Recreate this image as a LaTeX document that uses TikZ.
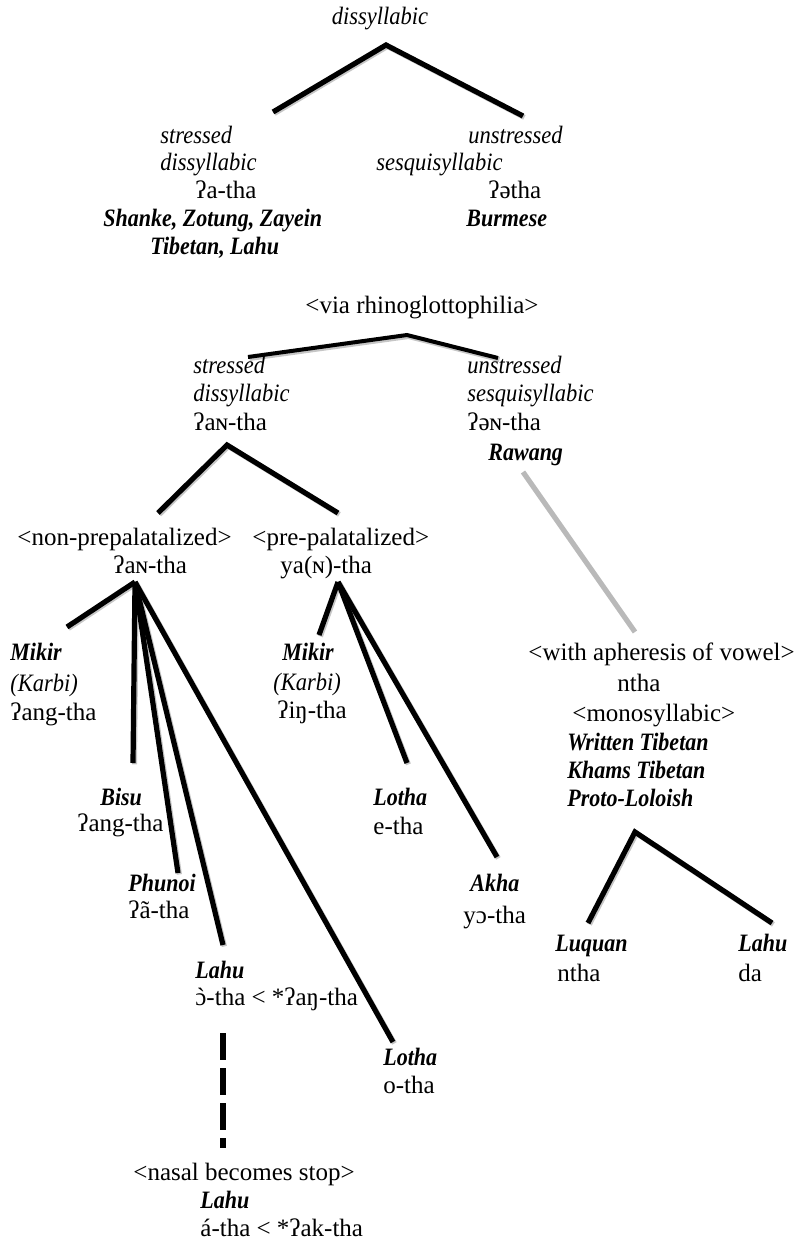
\documentclass[tikz,border=0pt]{standalone}
\usepackage{fontspec}
\setmainfont{Liberation Serif}[
    ItalicFeatures={FakeStretch=0.9},
    BoldItalicFeatures={FakeStretch=0.88}
]
\usetikzlibrary{positioning}
\newcommand{\treesize}{\fontsize{12.5}{15}\selectfont}
\newcommand{\opengrave}{\ooalign{ɔ\cr\hidewidth\char"02CB\hidewidth\cr}}
\tikzset{
    form/.style={inner sep=0pt, anchor=base west, yshift=-1.7pt, font=\treesize},
    gloss/.style={form, font=\treesize\itshape},
    lang/.style={form, font=\treesize\bfseries\itshape},
    branch/.style={
        line width=2.6pt,
        preaction={draw=gray!45, line width=2.6pt, transform canvas={shift={(0.7pt,-0.7pt)}}}
    },
    thinbranch/.style={branch, line width=2pt},
    drift/.style={draw=gray!55, line width=2.6pt},
    stopline/.style={line width=2.6pt, dash pattern=on 13.5pt off 4pt}
}

\begin{document}
\begin{tikzpicture}[x=0.5pt, y=-0.5pt]
    \useasboundingbox (0,0) rectangle (793,1243);

    \node[gloss, anchor=base] (root) at (380,21) {dissyllabic};
    \coordinate (root-fork) at (386,45);
    \coordinate (root-l) at (273,112);
    \coordinate (root-r) at (523,116);
    \draw[branch] (root-l) -- (root-fork) -- (root-r);

    \node[gloss] (s1) at (160,140) {stressed};
    \node[gloss] (s2) at (160,167) {dissyllabic};
    \node[form] (s3) at (195,195) {ʔa-tha};
    \node[lang] (s4) at (103,223) {Shanke, Zotung, Zayein};
    \node[lang] (s5) at (150,251) {Tibetan, Lahu};

    \node[gloss] (u1) at (468,140) {unstressed};
    \node[gloss] (u2) at (376,167) {sesquisyllabic};
    \node[form] (u3) at (488,195) {ʔətha};
    \node[lang] (u4) at (466,223) {Burmese};

    \node[form] (via) at (305,310) {<via rhinoglottophilia>};
    \coordinate (via-fork) at (407,335);
    \coordinate (via-l) at (248,357);
    \coordinate (via-r) at (498,358);
    \draw[thinbranch] (via-l) -- (via-fork) -- (via-r);

    \node[gloss] (vs1) at (193,370) {stressed};
    \node[gloss] (vs2) at (193,398) {dissyllabic};
    \node[form] (vs3) at (193,427) {ʔaɴ-tha};

    \node[gloss] (vu1) at (467,370) {unstressed};
    \node[gloss] (vu2) at (467,398) {sesquisyllabic};
    \node[form] (vu3) at (467,427) {ʔəɴ-tha};
    \node[lang] (rawang) at (488,457) {Rawang};
    \coordinate (rawang-end) at (523,472);
    \coordinate (aph-end) at (635,632);
    \draw[drift] (rawang-end) -- (aph-end);

    \coordinate (pal-fork) at (227,445);
    \coordinate (pal-l) at (158,513);
    \coordinate (pal-r) at (338,513);
    \draw[branch] (pal-l) -- (pal-fork) -- (pal-r);

    \node[form] (np1) at (17,542) {<non-prepalatalized>};
    \node[form] (np2) at (113,570) {ʔaɴ-tha};
    \node[form] (pp1) at (252,542) {<pre-palatalized>};
    \node[form] (pp2) at (280,570) {ya(ɴ)-tha};

    \coordinate (np-fork) at (135,582);
    \coordinate (np-mikir) at (67,627);
    \coordinate (np-bisu) at (133,763);
    \coordinate (np-phunoi) at (178,873);
    \coordinate (np-lahu) at (223,945);
    \coordinate (np-lotha) at (393,1042);
    \foreach \leaf in {mikir,bisu,phunoi,lahu,lotha}
        \draw[branch] (np-fork) -- (np-\leaf);

    \coordinate (pp-fork) at (338,582);
    \coordinate (pp-mikir) at (319,635);
    \coordinate (pp-lotha) at (407,763);
    \coordinate (pp-akha) at (497,857);
    \foreach \leaf in {mikir,lotha,akha}
        \draw[branch] (pp-fork) -- (pp-\leaf);

    \node[lang] (mikir1) at (10,657) {Mikir};
    \node[gloss] (karbi1) at (10,688) {(Karbi)};
    \node[form] (mikir1-f) at (10,717) {ʔang-tha};

    \node[lang] (mikir2) at (282,657) {Mikir};
    \node[gloss] (karbi2) at (273,687) {(Karbi)};
    \node[form] (mikir2-f) at (277,715) {ʔiŋ-tha};

    \node[lang] (bisu) at (100,802) {Bisu};
    \node[form] (bisu-f) at (77,828) {ʔang-tha};

    \node[lang] (lotha1) at (373,802) {Lotha};
    \node[form] (lotha1-f) at (373,831) {e-tha};

    \node[lang] (phunoi) at (128,888) {Phunoi};
    \node[form] (phunoi-f) at (128,915) {ʔã-tha};

    \node[lang] (akha) at (470,888) {Akha};
    \node[form] (akha-f) at (463,920) {yɔ-tha};

    \node[lang] (lahu1) at (195,975) {Lahu};
    \node[form] (lahu1-f) at (195,1002) {\opengrave-tha < *ʔaŋ-tha};

    \node[lang] (lotha2) at (383,1062) {Lotha};
    \node[form] (lotha2-f) at (383,1090) {o-tha};

    \coordinate (stop-top) at (223,1033);
    \coordinate (stop-bot) at (223,1148);
    \draw[stopline] (stop-top) -- (stop-bot);

    \node[form] (stop) at (133,1177) {<nasal becomes stop>};
    \node[lang] (lahu2) at (200,1205) {Lahu};
    \node[form] (lahu2-f) at (200,1233) {á-tha < *ʔak-tha};

    \node[form] (aph) at (528,657) {<with apheresis of vowel>};
    \node[form] (aph-f) at (617,688) {ntha};
    \node[form] (mono) at (572,718) {<monosyllabic>};
    \node[lang] (wt) at (567,747) {Written Tibetan};
    \node[lang] (kt) at (567,775) {Khams Tibetan};
    \node[lang] (pl) at (567,803) {Proto-Loloish};

    \coordinate (pl-fork) at (635,832);
    \coordinate (pl-l) at (588,923);
    \coordinate (pl-r) at (772,923);
    \draw[branch] (pl-l) -- (pl-fork) -- (pl-r);

    \node[lang] (luquan) at (555,948) {Luquan};
    \node[form] (luquan-f) at (557,978) {ntha};
    \node[lang] (lahu3) at (738,948) {Lahu};
    \node[form] (lahu3-f) at (738,978) {da};
\end{tikzpicture}
\end{document}
